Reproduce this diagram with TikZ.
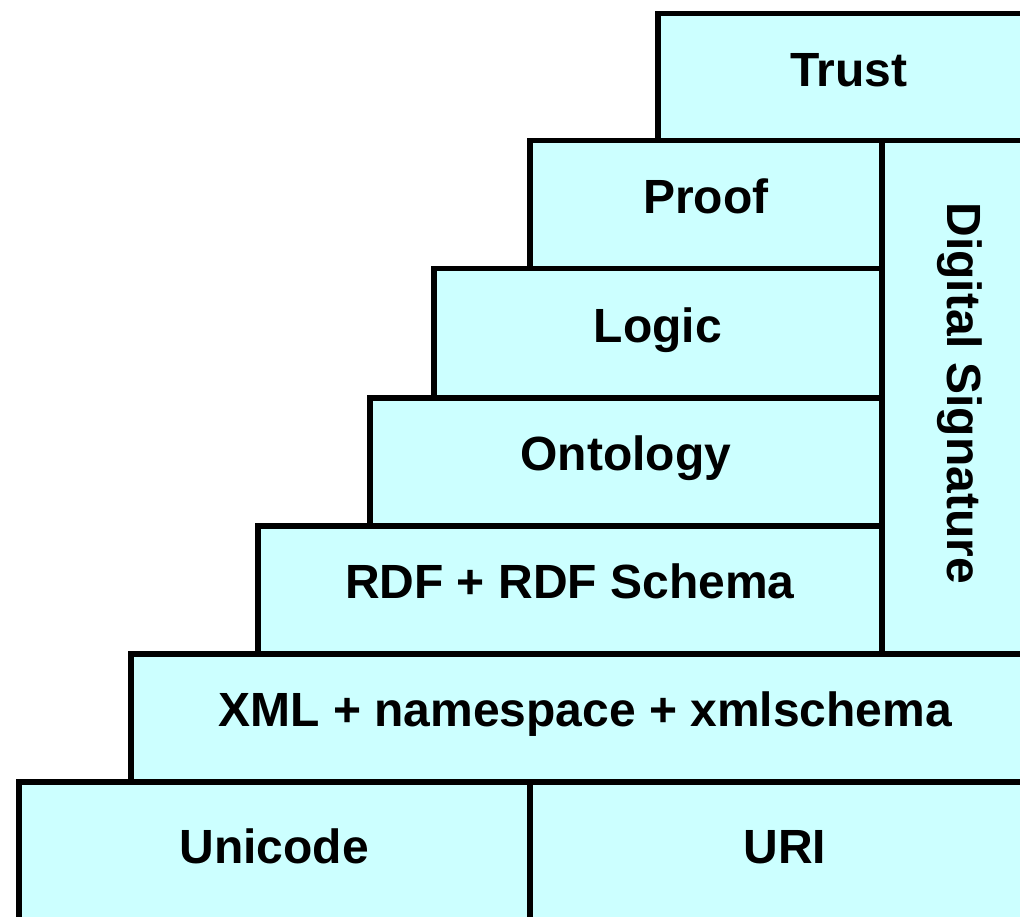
\documentclass[tikz,border=0pt]{standalone}
\usepackage{fontspec}
\setmainfont{Liberation Sans}
\begin{document}
\begin{tikzpicture}[x=1pt,y=-1pt,
  layer/.style={draw=black, fill=layercol, line width=5.5pt, anchor=north west,
    inner sep=0pt, font=\fontsize{48}{58}\selectfont\bfseries,
    text height=34pt, text depth=16pt},
]
\definecolor{layercol}{HTML}{CCFFFF}
\useasboundingbox (0,0) rectangle (1020,917);
\clip (0,0) rectangle (1020,917);
\node[layer, minimum width=382pt, minimum height=127pt] (trust) at (655,11) {Trust};
\node[layer, minimum width=511pt, minimum height=146pt] (unicode) at (16,779) {Unicode};
\node[layer, minimum width=510pt, minimum height=146pt] (uri) at (527,779) {URI};
\node[layer, minimum width=909pt, minimum height=128pt] (xml) at (128,651) {XML + namespace + xmlschema};
\node[layer, minimum width=624pt, minimum height=128pt] (rdf) at (255,523) {RDF + RDF Schema};
\node[layer, minimum width=512pt, minimum height=128pt] (onto) at (367,395) {Ontology};
\node[layer, minimum width=448pt, minimum height=129pt] (logic) at (431,266) {Logic};
\node[layer, minimum width=352pt, minimum height=128pt] (proof) at (527,138) {Proof};
\node[layer, minimum width=158pt, minimum height=513pt] (sig) at (879,138) {};
\node[font=\fontsize{48}{58}\selectfont\bfseries, rotate=-90, text height=34pt, text depth=0pt, inner sep=0pt] (siglabel) at ([xshift=4pt,yshift=4pt]sig.center) {Digital Signature};
\end{tikzpicture}
\end{document}
